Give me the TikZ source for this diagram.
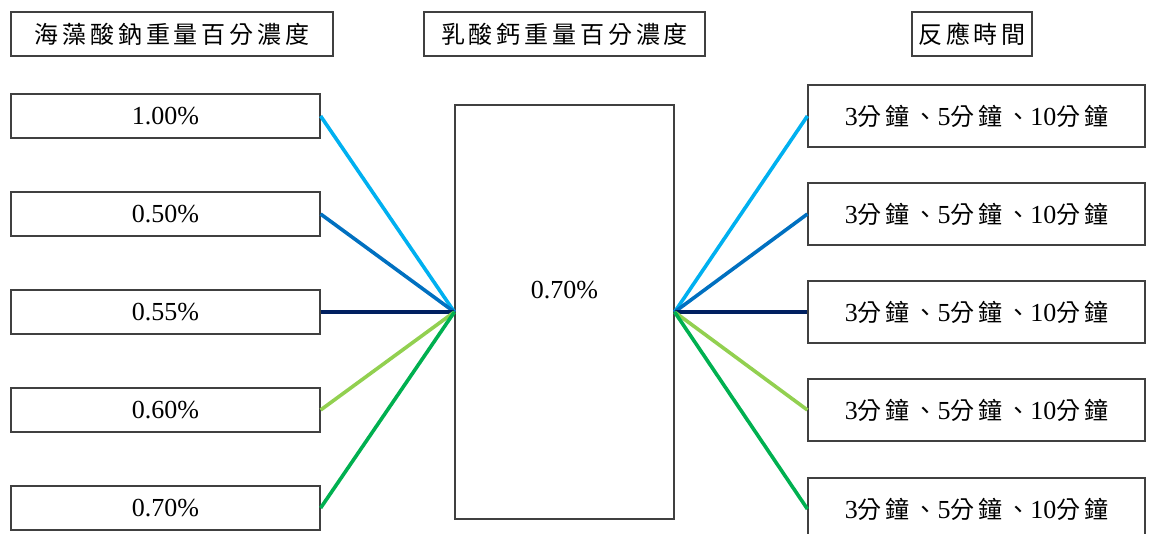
\documentclass[tikz,border=0pt]{standalone}
\usepackage{fontspec}
\setmainfont{Liberation Serif}
\newfontfamily\cjkfont{Noto Sans CJK TC}[LetterSpace=16]
\newcommand{\C}[1]{{\fontsize{24}{28}\cjkfont #1}}
\begin{document}
\begin{tikzpicture}[x=1pt,y=-1pt,
  box/.style={draw=black!75,line width=1.2pt,fill=white,inner sep=0pt,
    font=\fontsize{26}{30}\selectfont},
  hdr/.style={box,minimum height=44pt},
  lbox/.style={box,minimum width=309pt,minimum height=44pt},
  rbox/.style={box,minimum width=337pt,minimum height=62pt},
  conn/.style={line width=3.6pt}]
\useasboundingbox (0,0) rectangle (1151,533);
\definecolor{cA}{RGB}{0,176,240}
\definecolor{cB}{RGB}{0,112,192}
\definecolor{cC}{RGB}{0,32,96}
\definecolor{cD}{RGB}{146,208,80}
\definecolor{cE}{RGB}{0,176,80}
% headers
\node[hdr,minimum width=322pt] (h1) at (172,34) {\C{海藻酸鈉重量百分濃度}};
\node[hdr,minimum width=281pt] (h2) at (564.5,34) {\C{乳酸鈣重量百分濃度}};
\node[hdr,minimum width=120pt] (h3) at (972,34) {\C{反應時間}};
% middle
\node[box,minimum width=219pt,minimum height=414pt] (m) at (564.5,312) {};
\node[font=\fontsize{26}{30}\selectfont,inner sep=0pt] (mt) at (564.5,290) {0.70\%};
% left
\node[lbox] (l1) at (165.5,116) {1.00\%};
\node[lbox] (l2) at (165.5,214) {0.50\%};
\node[lbox] (l3) at (165.5,312) {0.55\%};
\node[lbox] (l4) at (165.5,410) {0.60\%};
\node[lbox] (l5) at (165.5,508) {0.70\%};
% right
\node[rbox] (r1) at (976.5,116) {3\C{分鐘、}5\C{分鐘、}10\C{分鐘}};
\node[rbox] (r2) at (976.5,214) {3\C{分鐘、}5\C{分鐘、}10\C{分鐘}};
\node[rbox] (r3) at (976.5,312) {3\C{分鐘、}5\C{分鐘、}10\C{分鐘}};
\node[rbox] (r4) at (976.5,410) {3\C{分鐘、}5\C{分鐘、}10\C{分鐘}};
\node[rbox] (r5) at (976.5,509) {3\C{分鐘、}5\C{分鐘、}10\C{分鐘}};
% connectors
\draw[conn,cA] (l1.east) -- (m.west);
\draw[conn,cB] (l2.east) -- (m.west);
\draw[conn,cC] (l3.east) -- (m.west);
\draw[conn,cD] (l4.east) -- (m.west);
\draw[conn,cE] (l5.east) -- (m.west);
\draw[conn,cA] (m.east) -- (r1.west);
\draw[conn,cB] (m.east) -- (r2.west);
\draw[conn,cC] (m.east) -- (r3.west);
\draw[conn,cD] (m.east) -- (r4.west);
\draw[conn,cE] (m.east) -- (r5.west);
\end{tikzpicture}
\end{document}
